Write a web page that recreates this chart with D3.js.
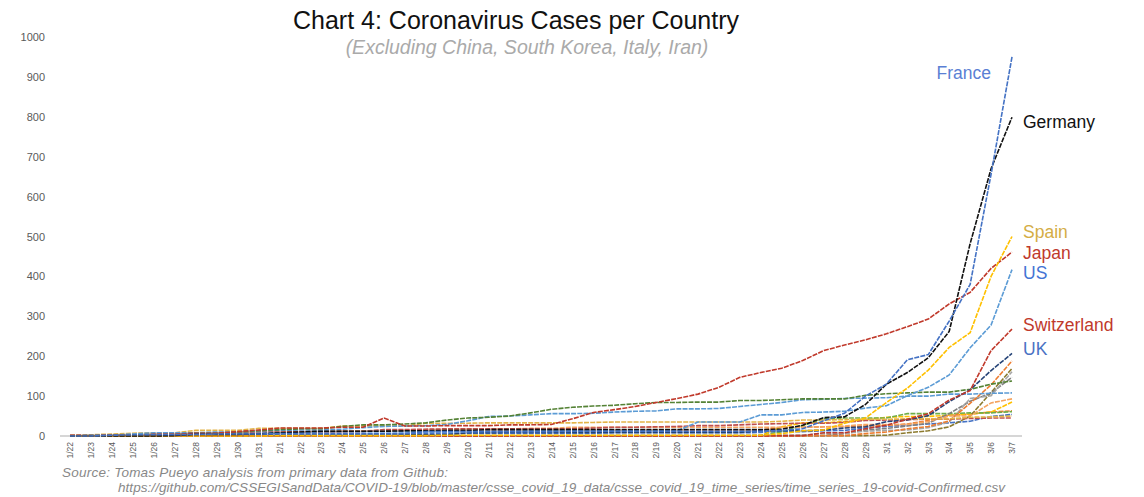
<!DOCTYPE html>
<meta charset="utf-8">
<style>
body { margin: 0; background: #fff; }
svg { font-family: "Liberation Sans", Arial, sans-serif; }
.line { fill: none; stroke-width: 1.6px; stroke-dasharray: 5,1.2; }
.tick text { fill: #5a5a5a; }
</style>
<body>
<script src="https://d3js.org/d3.v7.min.js"></script>
<script>

var dates = ["1/22","1/23","1/24","1/25","1/26","1/27","1/28","1/29","1/30","1/31",
  "2/1","2/2","2/3","2/4","2/5","2/6","2/7","2/8","2/9","2/10",
  "2/11","2/12","2/13","2/14","2/15","2/16","2/17","2/18","2/19","2/20",
  "2/21","2/22","2/23","2/24","2/25","2/26","2/27","2/28","2/29",
  "3/1","3/2","3/3","3/4","3/5","3/6","3/7"];

var yTicks = [0, 100, 200, 300, 400, 500, 600, 700, 800, 900, 1000];

// confirmed cases, one value per date
var france = [0,0,2,3,3,3,4,5,5,5, 6,6,6,6,6,6,6,11,11,11, 11,11,11,11,12,12,12,12,12,12, 12,12,12,12,14,18,38,57,100, 130,191,204,288,380,656,950];
var germany = [0,0,0,0,0,1,4,4,4,5, 8,10,12,12,12,12,13,13,14,14, 16,16,16,16,16,16,16,16,16,16, 16,16,16,16,17,27,46,48,79, 130,159,196,262,482,670,799];
var spain = [0,0,0,0,0,0,0,0,0,0, 1,1,1,1,1,1,1,1,2,2, 2,2,2,2,2,2,2,2,2,2, 2,2,2,2,6,13,15,32,45, 84,120,165,222,259,400,500];
var japan = [2,1,2,2,4,4,7,7,11,15, 20,20,20,22,22,45,25,25,26,26, 26,28,28,29,43,59,66,74,84,94, 105,122,147,159,170,189,214,228,241, 256,274,293,331,360,420,461];
var us = [1,1,2,2,5,5,5,5,5,7, 8,8,11,11,11,11,11,11,11,11, 12,12,13,13,13,13,13,13,13,13, 35,35,35,53,53,59,60,62,70, 76,101,122,153,221,278,417];
var switzerland = [0,0,0,0,0,0,0,0,0,0, 0,0,0,0,0,0,0,0,0,0, 0,0,0,0,0,0,0,0,0,0, 0,0,0,0,1,1,8,8,18, 27,42,56,90,114,214,268];
var uk = [0,0,0,0,0,0,0,0,0,2, 2,2,2,2,2,2,3,3,3,8, 8,9,9,9,9,9,9,9,9,9, 9,9,9,13,13,13,15,20,23, 36,40,51,86,116,164,207];
var singapore = [0,1,3,3,4,5,7,7,10,13, 16,18,18,24,28,28,30,33,40,45, 47,50,58,67,72,75,77,81,84,84, 85,85,89,89,91,93,93,93,102, 106,108,110,110,117,130,138];
var hongKong = [0,2,2,5,8,8,8,10,10,13, 14,15,15,17,21,24,25,26,29,38, 49,50,53,56,56,57,60,62,63,68, 68,69,74,79,84,91,92,94,95, 96,100,100,105,105,107,108];
var thailand = [2,3,5,7,8,8,14,14,14,19, 19,19,19,25,25,25,25,32,32,32, 33,33,33,33,33,34,35,35,35,35, 35,35,35,35,37,40,40,41,42, 42,43,43,43,47,48,50];
var taiwan = [1,1,3,3,4,5,8,8,9,10, 10,10,10,11,11,16,16,17,18,18, 18,18,18,18,18,20,22,22,23,24, 26,26,28,30,31,32,32,34,39, 40,41,42,42,44,45,45];
var malaysia = [0,0,0,3,4,4,4,7,8,8, 8,8,8,10,12,12,12,16,16,18, 18,18,19,19,22,22,22,22,22,22, 22,22,22,22,22,22,23,25,29, 29,29,36,50,50,83,93];
var netherlands = [0,0,0,0,0,0,0,0,0,0, 0,0,0,0,0,0,0,0,0,0, 0,0,0,0,0,0,0,0,0,0, 0,0,0,0,0,0,1,1,6, 10,18,24,38,82,128,188];
var sweden = [0,0,0,0,0,0,0,0,0,1, 1,1,1,1,1,1,1,1,1,1, 1,1,1,1,1,1,1,1,1,1, 1,1,1,1,1,2,7,7,12, 14,15,21,35,94,101,161];
var norway = [0,0,0,0,0,0,0,0,0,0, 0,0,0,0,0,0,0,0,0,0, 0,0,0,0,0,0,0,0,0,0, 0,0,0,0,0,1,1,6,15, 19,25,32,56,87,108,147];
var belgium = [0,0,0,0,0,0,0,0,0,0, 0,0,0,1,1,1,1,1,1,1, 1,1,1,1,1,1,1,1,1,1, 1,1,1,1,1,1,1,1,1, 2,8,13,23,50,109,169];
var kuwait = [0,0,0,0,0,0,0,0,0,0, 0,0,0,0,0,0,0,0,0,0, 0,0,0,0,0,0,0,0,0,0, 0,0,0,1,11,26,43,45,45, 45,56,56,56,58,58,61];
var bahrain = [0,0,0,0,0,0,0,0,0,0, 0,0,0,0,0,0,0,0,0,0, 0,0,0,0,0,0,0,0,0,0, 0,0,0,1,23,33,33,36,41, 47,49,49,52,55,60,85];
var australia = [0,0,0,0,4,5,5,6,9,9, 12,12,12,13,13,14,15,15,15,15, 15,15,15,15,15,15,15,15,15,15, 15,15,15,15,22,22,23,23,25, 27,30,39,52,55,60,63];
var canada = [0,0,0,0,1,1,2,2,2,4, 4,4,4,4,5,5,7,7,7,7, 7,7,7,7,7,7,8,8,8,8, 8,8,8,9,11,11,13,14,20, 24,27,30,33,37,49,54];

var names = ["Canada","Australia","Bahrain","Kuwait","Belgium","Norway","Sweden","Netherlands",
  "Malaysia","Taiwan","Thailand","Hong Kong","Singapore","UK","Switzerland","US","Japan","Spain","Germany","France"];
var values = [canada, australia, bahrain, kuwait, belgium, norway, sweden, netherlands,
  malaysia, taiwan, thailand, hongKong, singapore, uk, switzerland, us, japan, spain, germany, france];
var colors = ["#4472c4","#ed7d31","#ffc000","#70ad47","#8c7a2e","#7f7f7f","#a5a5a5","#ed7d31",
  "#f4a460","#c0504d","#e3b448","#5b9bd5","#548235","#264478","#c0392b","#5b9bd5","#c0392b","#ffc000","#111111","#4472c4"];

// labelled countries, label colours, and the value level each label sits at
var labelNames = ["France","Germany","Spain","Japan","US","Switzerland","UK"];
var labelColors = ["#5a7fd4","#111111","#d4ad45","#c0392b","#4474d4","#c0392b","#4a72c4"];
var labelAt = [910, 787, 511, 459, 408, 278, 218];

var width = 1144, height = 497;

var x = d3.scalePoint().domain(dates).range([70, 1012]);
var y = d3.scaleLinear().domain([0, 1000]).range([436, 37]);

var svg = d3.select("body").append("svg")
    .attr("width", width)
    .attr("height", height);

// title
svg.append("text")
    .attr("x", 516).attr("y", 29)
    .attr("text-anchor", "middle")
    .style("font-size", "25px")
    .style("fill", "#111")
    .text("Chart 4: Coronavirus Cases per Country");

svg.append("text")
    .attr("x", 527).attr("y", 54)
    .attr("text-anchor", "middle")
    .style("font-size", "19.5px")
    .style("font-style", "italic")
    .style("fill", "#aaa")
    .text("(Excluding China, South Korea, Italy, Iran)");

// Y axis (labels only)
var yAxis = svg.append("g")
    .attr("transform", "translate(47,0)")
    .call(d3.axisLeft(y).tickValues(yTicks).tickFormat(d3.format("d")).tickSize(0).tickPadding(2));
yAxis.select(".domain").remove();
yAxis.selectAll("text").style("font-size", "11px");

// X axis baseline
svg.append("line")
    .attr("x1", 60).attr("x2", 1022)
    .attr("y1", y(0)).attr("y2", y(0))
    .style("stroke", "#d6d6d6")
    .style("stroke-width", 2);

var xAxis = svg.append("g")
    .attr("transform", "translate(0," + y(0) + ")")
    .call(d3.axisBottom(x).tickSize(0));
xAxis.select(".domain").remove();
xAxis.selectAll("text")
    .style("font-size", "8.5px")
    .attr("text-anchor", "end")
    .attr("transform", "rotate(-90)")
    .attr("dx", "-6px")
    .attr("dy", "0.32em")
    .attr("x", 0).attr("y", 0);

// lines
var valueLine = d3.line()
    .x(function(d, i) { return x(dates[i]); })
    .y(function(d) { return y(d); });

svg.selectAll(".line")
    .data(values)
  .enter().append("path")
    .attr("class", "line")
    .attr("d", valueLine)
    .style("stroke", function(d, i) { return colors[i]; });

// labels next to the line ends
labelNames.forEach(function(n, i) {
  var t = svg.append("text")
      .style("font-size", "17.5px")
      .style("fill", labelColors[i])
      .attr("dy", "0.35em")
      .attr("y", y(labelAt[i]))
      .text(n);
  if (n === "France") {
    t.attr("x", x("3/6")).attr("text-anchor", "end");
  } else {
    t.attr("x", 1023);
  }
});

// source
svg.append("text")
    .attr("x", 62).attr("y", 477)
    .attr("textLength", 386)
    .style("font-size", "13.5px")
    .style("font-style", "italic")
    .style("fill", "#888")
    .text("Source: Tomas Pueyo analysis from primary data from Github:");

svg.append("text")
    .attr("x", 118).attr("y", 492)
    .attr("textLength", 887)
    .style("font-size", "13.5px")
    .style("font-style", "italic")
    .style("fill", "#888")
    .text("https://github.com/CSSEGISandData/COVID-19/blob/master/csse_covid_19_data/csse_covid_19_time_series/time_series_19-covid-Confirmed.csv");

</script>
</body>
